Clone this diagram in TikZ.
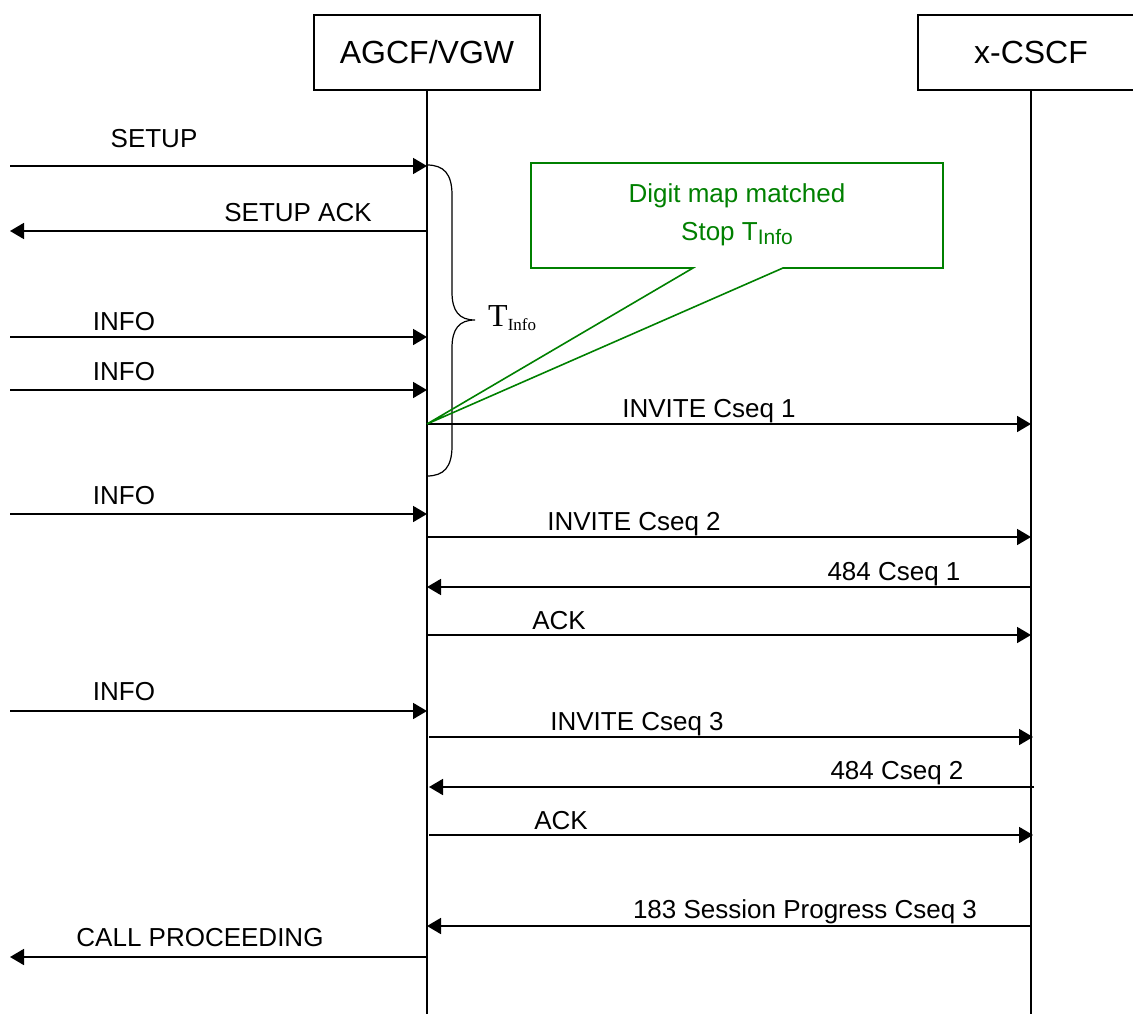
\documentclass[tikz,border=0pt]{standalone}
\usepackage{fontspec}
\setmainfont{Liberation Sans}
\newfontfamily\serifT{Liberation Serif}
\usetikzlibrary{arrows.meta}
\definecolor{dgreen}{RGB}{0,128,0}
\begin{document}
\begin{tikzpicture}[x=1pt,y=-1pt,
  msg/.style={line width=1.8pt,-{Triangle[length=14pt,width=16pt]}},
  lbl/.style={anchor=base,inner sep=0pt,font=\fontsize{26}{30}\selectfont},
  ent/.style={draw,line width=1.8pt,minimum width=226pt,minimum height=75pt,inner sep=0pt,font=\fontsize{32}{36}\selectfont},
  life/.style={line width=1.8pt},
  brace/.style={line width=1.2pt},
  notebox/.style={draw=dgreen,line width=1.6pt},
  notetext/.style={anchor=base,inner sep=0pt,text=dgreen,font=\fontsize{26}{30}\selectfont}]
\useasboundingbox (0,0) rectangle (1133,1014);
% entities
\node[ent] (agcf) at (427,52.5) {AGCF/VGW};
\node[ent] (cscf) at (1031,52.5) {x-CSCF};
\coordinate (agcfEnd) at (427,1014);
\coordinate (cscfEnd) at (1031,1014);
\draw[life] (agcf.south) -- (agcfEnd);
\draw[life] (cscf.south) -- (cscfEnd);
% left side free ends and lifeline points
\coordinate (L1) at (10,166);  \coordinate (A1) at (427,166);
\coordinate (L2) at (10,231);  \coordinate (A2) at (427,231);
\coordinate (L3) at (10,337);  \coordinate (A3) at (427,337);
\coordinate (L4) at (10,390);  \coordinate (A4) at (427,390);
\coordinate (A5) at (427,424); \coordinate (C5) at (1031,424);
\coordinate (L6) at (10,514);  \coordinate (A6) at (427,514);
\coordinate (A7) at (427,537); \coordinate (C7) at (1031,537);
\coordinate (A8) at (427,587); \coordinate (C8) at (1031,587);
\coordinate (A9) at (427,635); \coordinate (C9) at (1031,635);
\coordinate (L10) at (10,711); \coordinate (A10) at (427,711);
\coordinate (A11) at (429,737); \coordinate (C11) at (1033,737);
\coordinate (A12) at (429,787); \coordinate (C12) at (1034,787);
\coordinate (A13) at (429,835); \coordinate (C13) at (1033,835);
\coordinate (A14) at (427,926); \coordinate (C14) at (1031,926);
\coordinate (L15) at (10,957); \coordinate (A15) at (427,957);
% messages
\draw[msg] (L1) -- (A1);
\node[lbl] at (154,148) {SETUP};
\draw[msg] (A2) -- (L2);
\node[lbl] at (298,221) {SETUP ACK};
\draw[msg] (L3) -- (A3);
\node[lbl] at (124,330) {INFO};
\draw[msg] (L4) -- (A4);
\node[lbl] at (124,380) {INFO};
\draw[msg] (A5) -- (C5);
\node[lbl] at (709,417) {INVITE Cseq 1};
\draw[msg] (L6) -- (A6);
\node[lbl] at (124,504) {INFO};
\draw[msg] (A7) -- (C7);
\node[lbl] at (634,530) {INVITE Cseq 2};
\draw[msg] (C8) -- (A8);
\node[lbl] at (894,580) {484 Cseq 1};
\draw[msg] (A9) -- (C9);
\node[lbl] at (559,629) {ACK};
\draw[msg] (L10) -- (A10);
\node[lbl] at (124,700) {INFO};
\draw[msg] (A11) -- (C11);
\node[lbl] at (637,730) {INVITE Cseq 3};
\draw[msg] (C12) -- (A12);
\node[lbl] at (897,779) {484 Cseq 2};
\draw[msg] (A13) -- (C13);
\node[lbl] at (561,829) {ACK};
\draw[msg] (C14) -- (A14);
\node[lbl] at (805,918) {183 Session Progress Cseq 3};
\draw[msg] (A15) -- (L15);
\node[lbl] at (200,946) {CALL PROCEEDING};
% brace
\coordinate (bTop) at (427,165);
\coordinate (bTip) at (475,320);
\coordinate (bBot) at (427,476);
\draw[brace] (bTop) .. controls (444,165) and (452,174) .. (452,195)
  -- (452,292) .. controls (452,311) and (459,320) .. (bTip)
  .. controls (459,320) and (452,329) .. (452,348)
  -- (452,446) .. controls (452,467) and (444,476) .. (bBot);
\node[anchor=base west,inner sep=0pt,font=\serifT\fontsize{32}{36}\selectfont] (tinfo) at (488,326)
  {T\raisebox{-4pt}{\fontsize{17}{20}\selectfont Info}};
% callout
\coordinate (n1) at (531,163); \coordinate (n2) at (943,163);
\coordinate (n3) at (943,268); \coordinate (n4) at (783,268);
\coordinate (n5) at (693,268); \coordinate (n6) at (531,268);
\draw[notebox] (n1) -- (n2) -- (n3) -- (n4) -- (A5) -- (n5) -- (n6) -- cycle;
\node[notetext] (note1) at (737,203) {Digit map matched};
\node[notetext] (note2) at (737,240) {Stop T\raisebox{-5pt}{\fontsize{21}{24}\selectfont Info}};
\end{tikzpicture}
\end{document}
